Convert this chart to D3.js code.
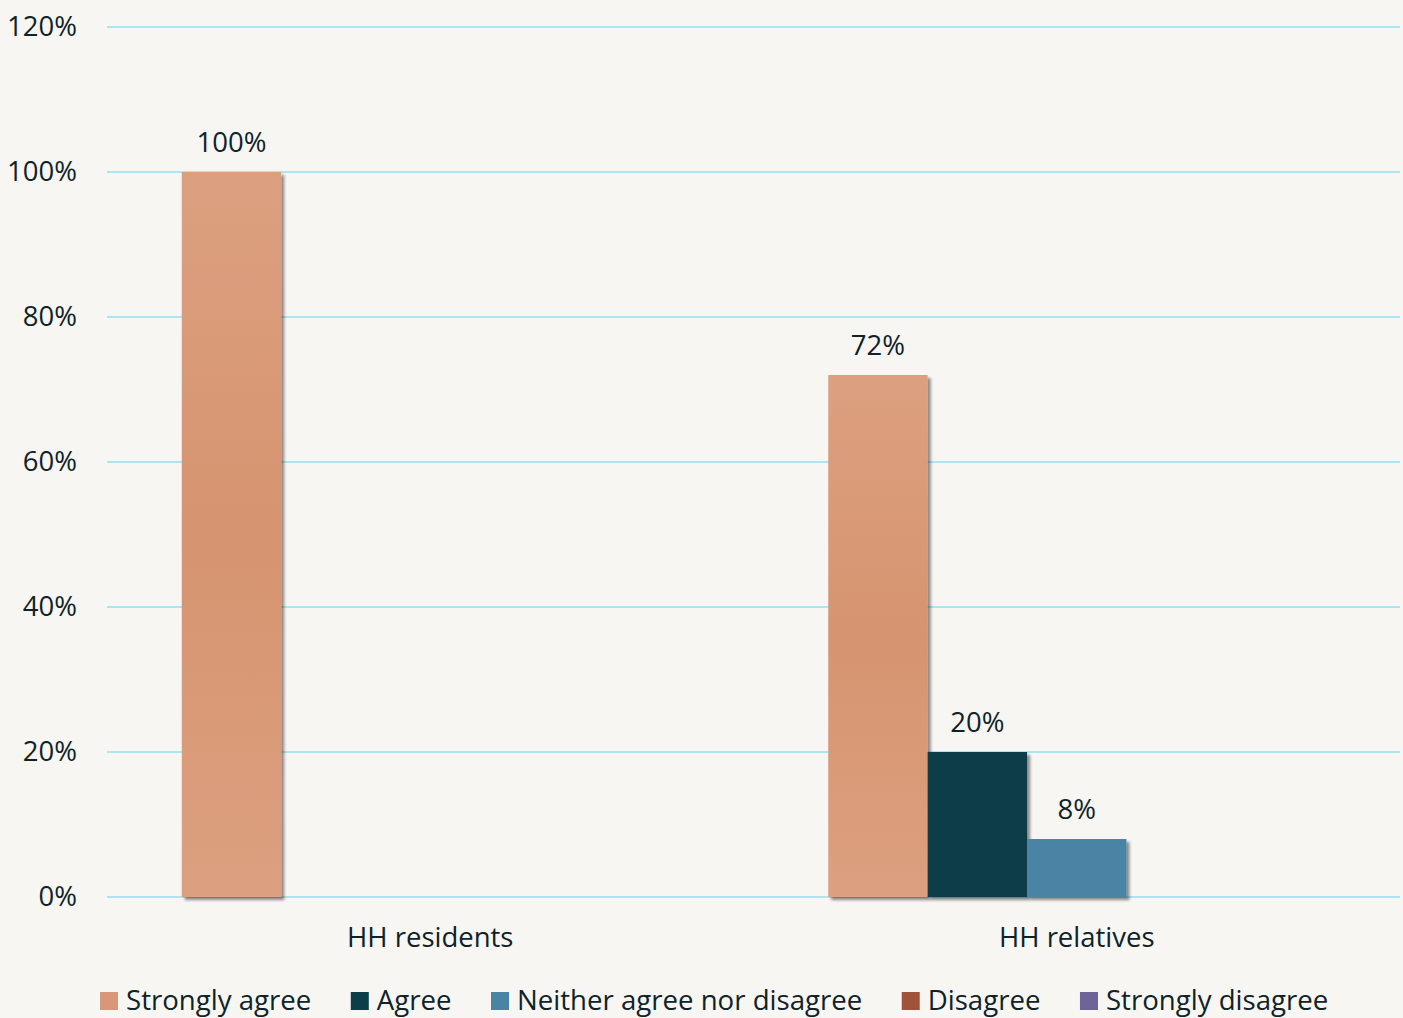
<!DOCTYPE html>
<html>
<head>
<meta charset="utf-8">
<script src="https://cdn.jsdelivr.net/npm/d3@7"></script>
<style>
  html, body { margin: 0; padding: 0; background: #F8F6F2; }
  svg { display: block; font-family: "Open Sans", Lato, sans-serif; }
</style>
</head>
<body>
<svg id="chart" width="1403" height="1018"></svg>
<script>
// Survey responses by group
const categories = ["HH residents", "HH relatives"];
const seriesNames = ["Strongly agree", "Agree", "Neither agree nor disagree", "Disagree", "Strongly disagree"];
const seriesColors = ["#D9977A", "#0A3E4A", "#4A84A4", "#A0533A", "#6E6497"];
const stronglyAgree = [100, 72];
const agree = [0, 20];
const neither = [0, 8];
const disagree = [0, 0];
const stronglyDisagree = [0, 0];
const yTicks = [0, 20, 40, 60, 80, 100, 120];

const seriesValues = [stronglyAgree, agree, neither, disagree, stronglyDisagree];

const svg = d3.select("#chart");
const W = 1403, H = 1018;
const margin = { left: 107, right: 3, top: 27, bottom: 121 };
const plotW = W - margin.left - margin.right;
const plotH = H - margin.top - margin.bottom;
const textColor = "#0E2328";
const font = "'Open Sans', Lato, sans-serif";
const fontSize = 27.5;

svg.append("rect").attr("width", W).attr("height", H).attr("fill", "#F8F6F2");

const defs = svg.append("defs");
const shadow = defs.append("filter").attr("id", "barShadow")
  .attr("x", "-10%").attr("y", "-10%").attr("width", "130%").attr("height", "130%");
shadow.append("feGaussianBlur").attr("in", "SourceAlpha").attr("stdDeviation", 1.5).attr("result", "b");
shadow.append("feOffset").attr("in", "b").attr("dx", 3).attr("dy", 3).attr("result", "o");
shadow.append("feComponentTransfer").attr("in", "o").attr("result", "s")
  .append("feFuncA").attr("type", "linear").attr("slope", 0.45);
const merge = shadow.append("feMerge");
merge.append("feMergeNode").attr("in", "s");
merge.append("feMergeNode").attr("in", "SourceGraphic");

// soft vertical sheen on the light bars
const grad = defs.append("linearGradient").attr("id", "gradAgree")
  .attr("x1", 0).attr("y1", 0).attr("x2", 0).attr("y2", 1);
grad.append("stop").attr("offset", "0%").attr("stop-color", "#DCA080");
grad.append("stop").attr("offset", "50%").attr("stop-color", "#D6946F");
grad.append("stop").attr("offset", "100%").attr("stop-color", "#DCA080");

const g = svg.append("g").attr("transform", `translate(${margin.left},${margin.top})`);

const x0 = d3.scaleBand().domain(categories).range([0, plotW]).padding(0);
const groupW = 497;
const x1 = d3.scaleBand().domain(seriesNames).range([0, groupW]).padding(0);
const y = d3.scaleLinear().domain([0, 120]).range([plotH, 0]);

// gridlines
g.append("g").selectAll("line").data(yTicks).join("line")
  .attr("x1", 0).attr("x2", plotW)
  .attr("y1", d => y(d)).attr("y2", d => y(d))
  .attr("stroke", "#ABE5F2").attr("stroke-width", 2);

// y axis labels
const yAxis = d3.axisLeft(y).tickValues(yTicks).tickFormat(d => d + "%").tickSize(0).tickPadding(30);
const ya = g.append("g").call(yAxis);
ya.select(".domain").remove();
ya.selectAll("text").attr("font-size", fontSize).attr("fill", textColor).attr("font-family", font);

// x axis labels
const xAxis = d3.axisBottom(x0).tickSize(0).tickPadding(30);
const xa = g.append("g").attr("transform", `translate(0,${plotH})`).call(xAxis);
xa.select(".domain").remove();
xa.selectAll("text").attr("font-size", fontSize).attr("fill", textColor).attr("font-family", font);

// bars
const groups = g.append("g").selectAll("g").data(categories).join("g")
  .attr("transform", c => `translate(${x0(c) + x0.bandwidth() / 2 - groupW / 2},0)`);

groups.each(function (c, ci) {
  const grp = d3.select(this);
  const data = seriesNames.map((s, si) => ({ s, si, v: seriesValues[si][ci] }));
  grp.selectAll("rect").data(data).join("rect")
    .attr("x", d => x1(d.s))
    .attr("y", d => y(d.v))
    .attr("width", x1.bandwidth())
    .attr("height", d => plotH - y(d.v))
    .attr("fill", d => d.si === 0 ? "url(#gradAgree)" : seriesColors[d.si])
    .attr("filter", "url(#barShadow)");
  grp.selectAll("text").data(data.filter(d => d.v > 0)).join("text")
    .attr("x", d => x1(d.s) + x1.bandwidth() / 2)
    .attr("y", d => y(d.v) - 20)
    .attr("text-anchor", "middle")
    .attr("font-size", fontSize).attr("fill", textColor)
    .text(d => d.v + "%");
});

// legend
const legend = svg.append("g").attr("transform", "translate(100,1010)");
let lx = 0;
seriesNames.forEach((name, i) => {
  const item = legend.append("g").attr("transform", `translate(${lx},0)`);
  item.append("rect").attr("x", 0).attr("y", -18).attr("width", 18).attr("height", 18)
    .attr("fill", seriesColors[i]);
  const t = item.append("text").attr("x", 26).attr("y", 0)
    .attr("font-size", 27.6).attr("fill", textColor).text(name);
  lx += 26 + t.node().getComputedTextLength() + 39.5;
});
</script>
</body>
</html>
